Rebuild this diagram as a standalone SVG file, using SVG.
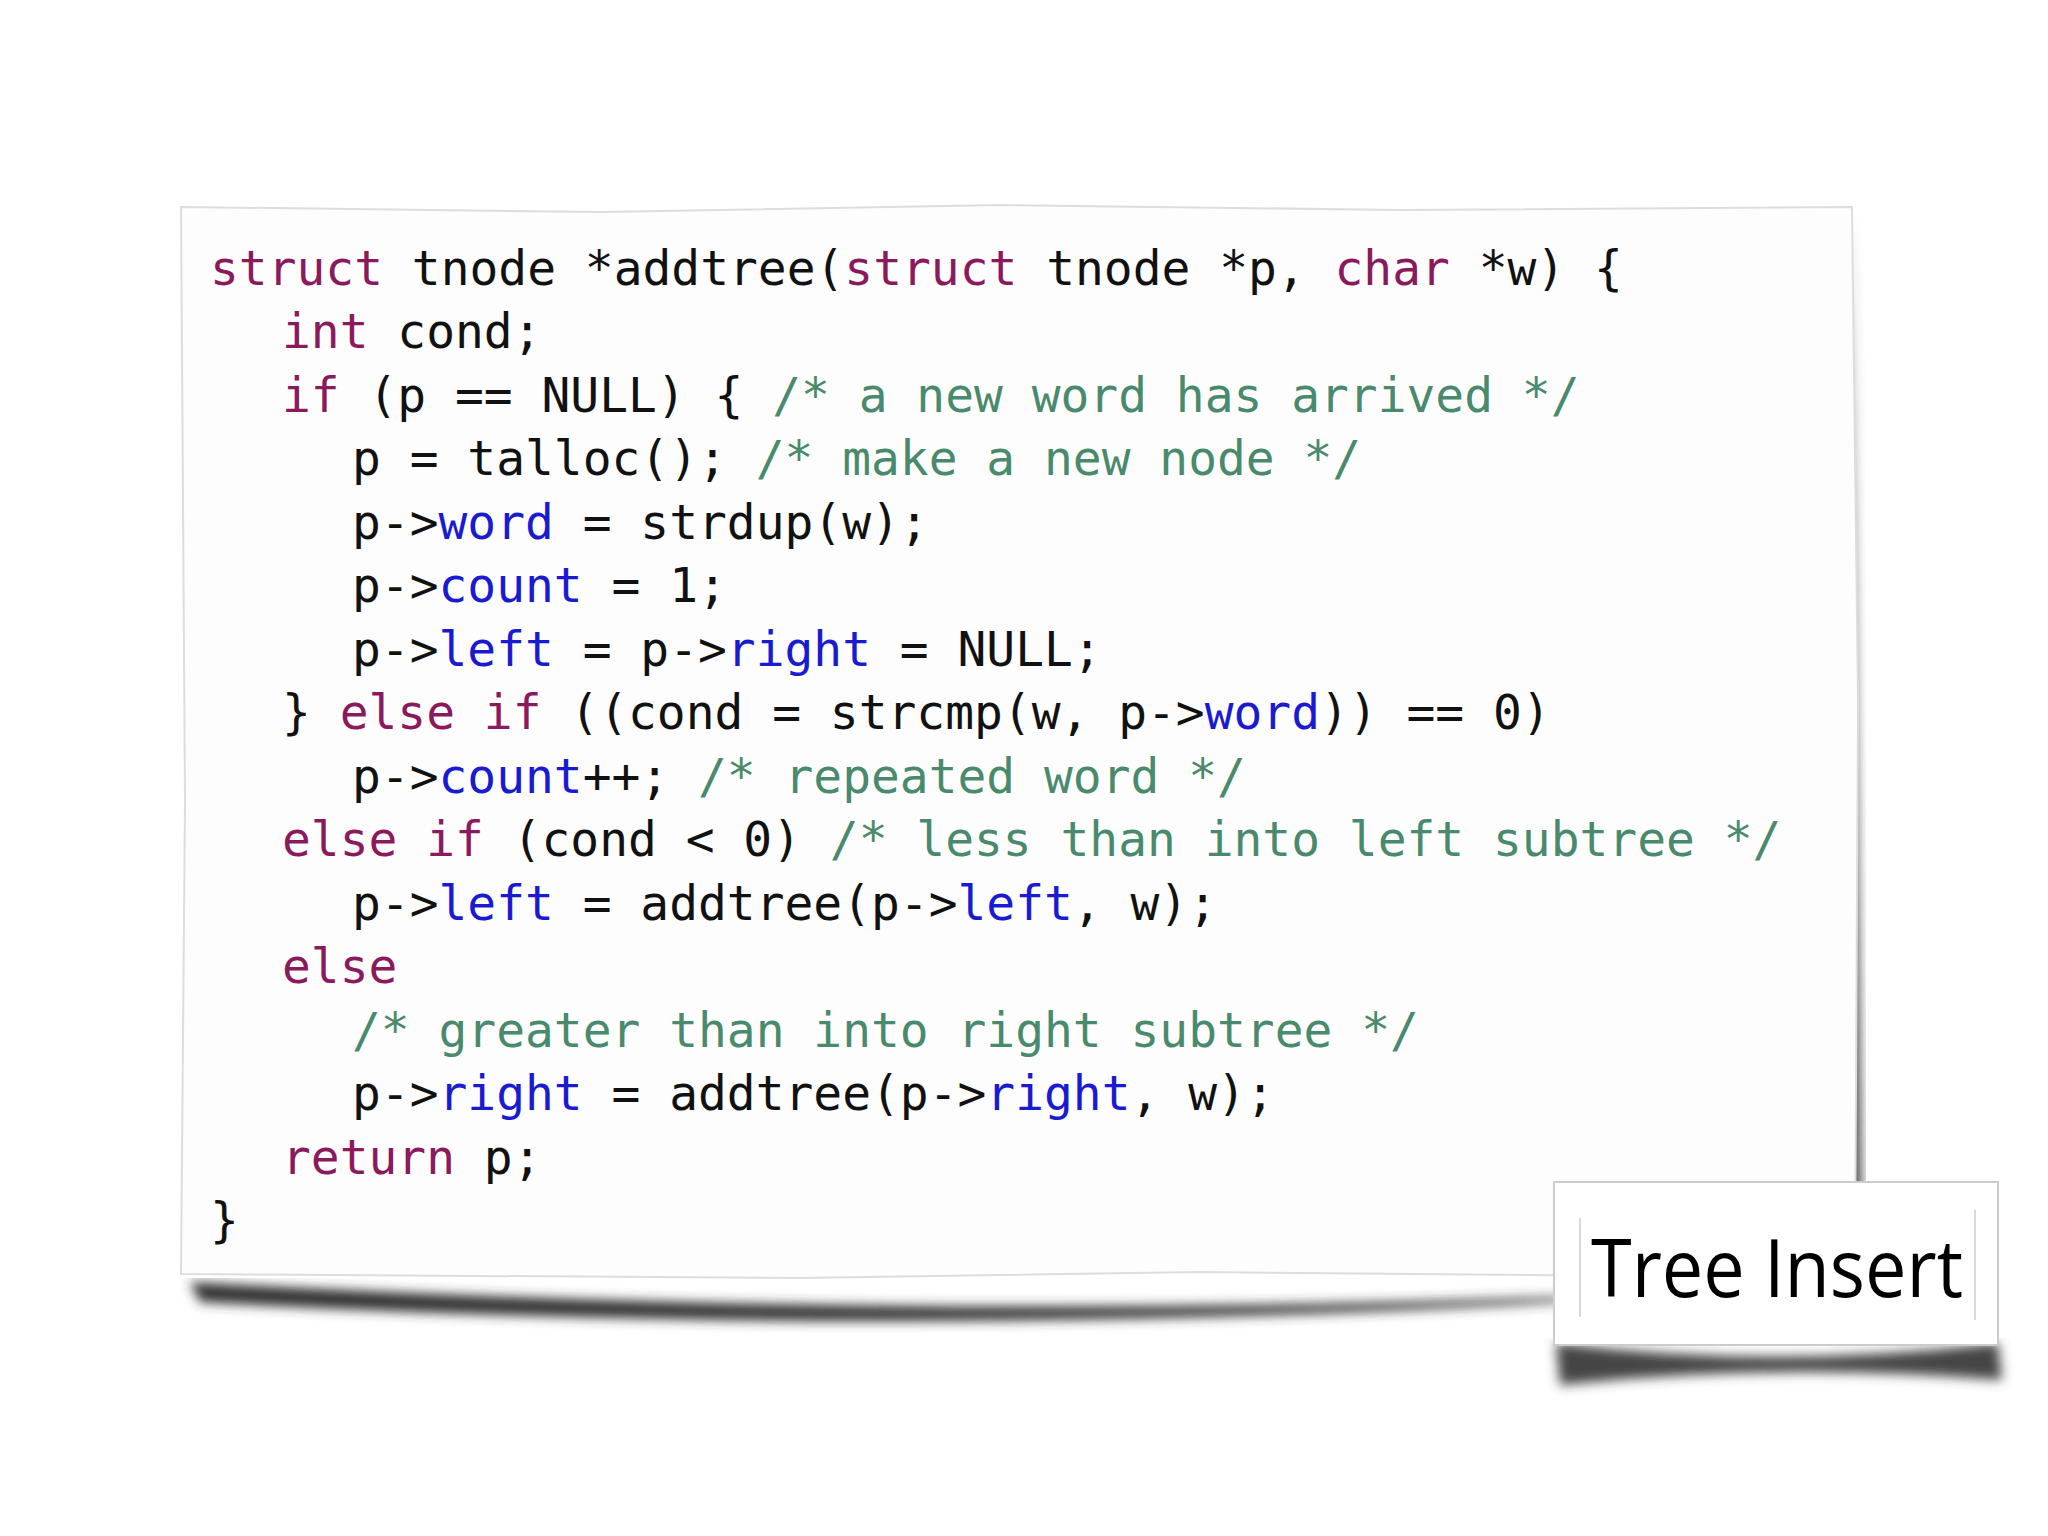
<svg xmlns="http://www.w3.org/2000/svg" width="2048" height="1536" viewBox="0 0 2048 1536">
<defs>
<filter id="sh" x="-10%" y="-10%" width="130%" height="140%"><feGaussianBlur stdDeviation="6"/></filter>
<style>
.c{font-family:"DejaVu Sans Mono","Liberation Mono",monospace;font-size:47.9px;fill:#111;white-space:pre}
.k{fill:#8a1a5c}.m{fill:#1a1ad0}.g{fill:#4a8a6c}
.t{font-family:"Open Sans","Liberation Sans",sans-serif;font-size:80px;fill:#000}
</style>
</defs>
<rect width="2048" height="1536" fill="#fff"/>
<g id="paper">
<path d="M190 1282 Q900 1322 1560 1297 L1560 1302 Q900 1340 200 1302 Z" fill="#333" filter="url(#sh)"/>
<path d="M1850 215 L1862 1250 L1855 1275 L1845 1230 Z" fill="#444" filter="url(#sh)"/>
<path d="M181 207 L600 212 L1000 205 L1400 210 L1852 207 L1858 700 L1855 1278 L1200 1272 L800 1278 L181 1274 L185 800 Z" fill="#fdfdfd" stroke="#ddd" stroke-width="2"/>
</g>
<g id="code" class="c" xml:space="preserve">
<text x="210" y="285"><tspan class="k">struct</tspan> tnode *addtree(<tspan class="k">struct</tspan> tnode *p, <tspan class="k">char</tspan> *w) {</text>
<text x="282" y="348"><tspan class="k">int</tspan> cond;</text>
<text x="282" y="412"><tspan class="k">if</tspan> (p == NULL) { <tspan class="g">/* a new word has arrived */</tspan></text>
<text x="352" y="475">p = talloc(); <tspan class="g">/* make a new node */</tspan></text>
<text x="352" y="539">p-&gt;<tspan class="m">word</tspan> = strdup(w);</text>
<text x="352" y="602">p-&gt;<tspan class="m">count</tspan> = 1;</text>
<text x="352" y="666">p-&gt;<tspan class="m">left</tspan> = p-&gt;<tspan class="m">right</tspan> = NULL;</text>
<text x="282" y="729">} <tspan class="k">else if</tspan> ((cond = strcmp(w, p-&gt;<tspan class="m">word</tspan>)) == 0)</text>
<text x="352" y="793">p-&gt;<tspan class="m">count</tspan>++; <tspan class="g">/* repeated word */</tspan></text>
<text x="282" y="856"><tspan class="k">else if</tspan> (cond &lt; 0) <tspan class="g">/* less than into left subtree */</tspan></text>
<text x="352" y="920">p-&gt;<tspan class="m">left</tspan> = addtree(p-&gt;<tspan class="m">left</tspan>, w);</text>
<text x="282" y="983"><tspan class="k">else</tspan></text>
<text x="352" y="1047"><tspan class="g">/* greater than into right subtree */</tspan></text>
<text x="352" y="1110">p-&gt;<tspan class="m">right</tspan> = addtree(p-&gt;<tspan class="m">right</tspan>, w);</text>
<text x="282" y="1174"><tspan class="k">return</tspan> p;</text>
<text x="210" y="1237">}</text>
</g>
<g id="title">
<path d="M1556 1343 Q1775 1370 1998 1343 L2002 1380 Q1775 1362 1560 1385 Z" fill="#444" filter="url(#sh)"/>
<rect x="1554" y="1182" width="444" height="163" fill="#fff" stroke="#ccc" stroke-width="2"/>
<line x1="1580" y1="1218" x2="1580" y2="1317" stroke="#ccc" stroke-width="1.5"/>
<line x1="1975" y1="1210" x2="1975" y2="1320" stroke="#ccc" stroke-width="1.5"/>
<text class="t" x="1591" y="1297" textLength="372" lengthAdjust="spacingAndGlyphs">Tree Insert</text>
</g>
</svg>
